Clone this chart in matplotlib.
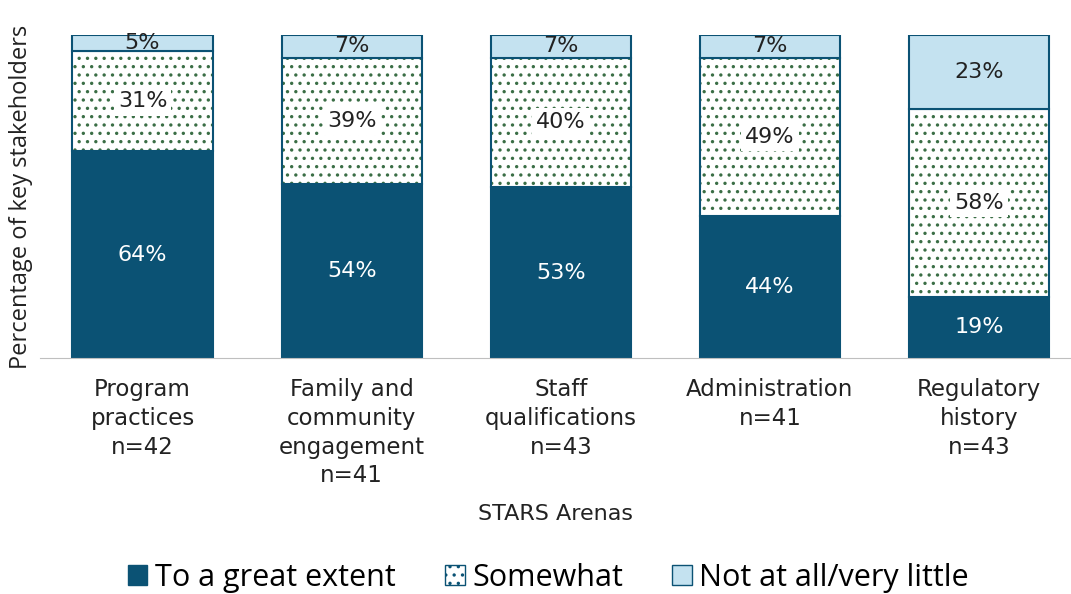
import numpy as np
import matplotlib.pyplot as plt
from matplotlib.patches import Patch

arenas = ['Program\npractices\nn=42', 'Family and\ncommunity\nengagement\nn=41',
          'Staff\nqualifications\nn=43', 'Administration\nn=41', 'Regulatory\nhistory\nn=43']
great = [64, 54, 53, 44, 19]
somewhat = [31, 39, 40, 49, 58]
little = [5, 7, 7, 7, 23]

dark = '#0b5274'
light = '#c4e2f0'
hatch_col = '#3a6e45'

plt.rcParams['font.family'] = ['Verdana', 'DejaVu Sans']
plt.rcParams['hatch.linewidth'] = 1.2

fig = plt.figure(figsize=(10.71, 5.94), dpi=100)
ax = fig.add_axes([0.037, 0.397, 0.963, 0.544])

x = np.arange(len(arenas))
w = 0.67
great = np.array(great)
somewhat = np.array(somewhat)
little = np.array(little)

ax.bar(x, great, w, color=dark, edgecolor=dark, linewidth=1.5)
# hatched fill drawn first, outline on top
ax.bar(x, somewhat, w, bottom=great, color='white', edgecolor=hatch_col,
       hatch='..', linewidth=0)
ax.bar(x, somewhat, w, bottom=great, color='none', edgecolor=dark, linewidth=1.5)
ax.bar(x, little, w, bottom=great + somewhat, color=light, edgecolor=dark, linewidth=1.5)

for i in x:
    ax.text(i, great[i] / 2, f'{great[i]}%', ha='center', va='center',
            color='white', fontsize=16)
    ax.text(i, great[i] + somewhat[i] / 2, f'{somewhat[i]}%', ha='center', va='center',
            color='#222222', fontsize=16,
            bbox=dict(facecolor='white', edgecolor='none', pad=3))
    ax.text(i, great[i] + somewhat[i] + little[i] / 2, f'{little[i]}%', ha='center',
            va='center', color='#222222', fontsize=16)

ax.set_xlim(-0.492, 4.44)
ax.set_ylim(0, 100)
ax.set_yticks([])
ax.set_xticks(x)
ax.set_xticklabels(arenas, fontsize=16.5, linespacing=1.33, color='#222222')
ax.tick_params(axis='x', length=0, pad=14)
for s in ['top', 'right', 'left']:
    ax.spines[s].set_visible(False)
ax.spines['bottom'].set_color('#bfbfbf')
ax.set_ylabel('Percentage of key stakeholders', fontsize=17, color='#222222',
              labelpad=5, family=['Open Sans', 'DejaVu Sans'])
ax.set_xlabel('STARS Arenas', fontsize=16, color='#222222', labelpad=12)

handles = [Patch(facecolor=dark, edgecolor=dark),
           Patch(facecolor='white', edgecolor=dark, hatch='..'),
           Patch(facecolor=light, edgecolor=dark)]
fig.legend(handles, ['To a great extent', 'Somewhat', 'Not at all/very little'],
           loc='center', bbox_to_anchor=(0.512, 0.027), ncol=3, frameon=False,
           prop={'family': ['Open Sans', 'DejaVu Sans'], 'size': 22},
           handlelength=0.65, handleheight=0.65, handletextpad=0.25,
           columnspacing=1.6)

fig.savefig('out.png', dpi=100)
